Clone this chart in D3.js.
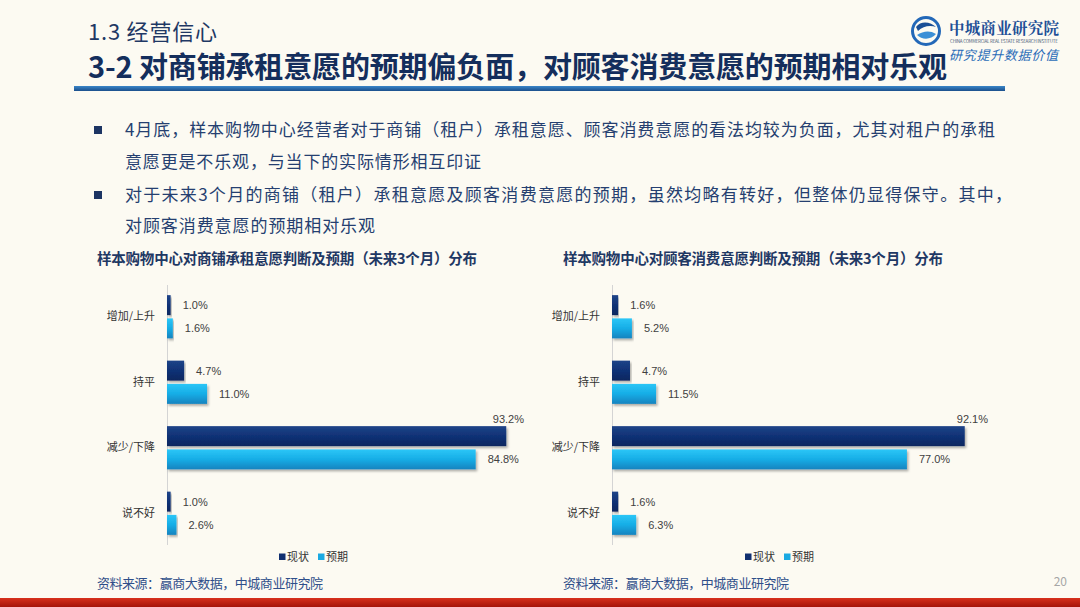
<!DOCTYPE html>
<html>
<head>
    <meta charset="utf-8">
    <title>3-2 经营信心</title>
    <style>
        * {
            margin: 0;
            padding: 0;
        }

        body {
            background-color: #fcfaf2;
            font-family: "Noto Sans CJK SC", "Microsoft YaHei", sans-serif;
        }
    </style>
    <script src="https://cdn.jsdelivr.net/npm/d3@7/dist/d3.min.js"></script>
</head>
<body>
    <div id="root"></div>

    <script>
        // 数据
        var categories = ["增加/上升", "持平", "减少/下降", "说不好"];
        var seriesNames = ["现状", "预期"];
        var shopNow = [1.0, 4.7, 93.2, 1.0];
        var shopExpect = [1.6, 11.0, 84.8, 2.6];
        var customerNow = [1.6, 4.7, 92.1, 1.6];
        var customerExpect = [5.2, 11.5, 77.0, 6.3];

        var bullets = [
            ["4月底，样本购物中心经营者对于商铺（租户）承租意愿、顾客消费意愿的看法均较为负面，尤其对租户的承租", "意愿更是不乐观，与当下的实际情形相互印证"],
            ["对于未来3个月的商铺（租户）承租意愿及顾客消费意愿的预期，虽然均略有转好，但整体仍显得保守。其中，", "对顾客消费意愿的预期相对乐观"]
        ];

        var width = 1080;
        var height = 607;
        var navy = "#1f3864";

        var svg = d3.select("#root").append("svg")
            .attr("width", width).attr("height", height)
            .style("display", "block");

        var defs = svg.append("defs");

        function addGradient(id, stops, x2, y2) {
            var g = defs.append("linearGradient").attr("id", id)
                .attr("x1", 0).attr("y1", 0).attr("x2", x2).attr("y2", y2);
            stops.forEach(function (s) {
                g.append("stop").attr("offset", s[0]).attr("stop-color", s[1]);
            });
        }
        addGradient("gNow", [["0%", "#1d4488"], ["55%", "#0f3074"], ["100%", "#0b275f"]], 0, 1);
        addGradient("gExp", [["0%", "#2cc6f7"], ["50%", "#16ade6"], ["100%", "#1383bf"]], 0, 1);
        addGradient("gLine", [["0%", "#3a86c8"], ["100%", "#1b4f8c"]], 0, 1);
        addGradient("gRed", [["0%", "#d7301c"], ["100%", "#a5140a"]], 0, 1);

        var shadow = defs.append("filter").attr("id", "shadow")
            .attr("x", "-5%").attr("y", "-30%").attr("width", "115%").attr("height", "170%");
        shadow.append("feDropShadow").attr("dx", 1.5).attr("dy", 2).attr("stdDeviation", 1.2)
            .attr("flood-color", "#000").attr("flood-opacity", 0.3);

        svg.append("rect").attr("width", width).attr("height", height).attr("fill", "#fcfaf2");

        function renderHeader() {
            svg.append("text").attr("x", 88).attr("y", 40)
                .attr("font-size", 22).attr("fill", navy)
                .attr("textLength", 129)
                .text("1.3  经营信心");

            svg.append("text").attr("x", 88).attr("y", 78)
                .attr("font-size", 29).attr("font-weight", "bold").attr("fill", "#142e5c")
                .attr("textLength", 859)
                .text("3-2  对商铺承租意愿的预期偏负面，对顾客消费意愿的预期相对乐观");

            svg.append("rect").attr("x", 74).attr("y", 86).attr("width", 931).attr("height", 5)
                .attr("fill", "url(#gLine)");

            // logo
            var logo = svg.append("g");
            logo.append("circle").attr("cx", 926).attr("cy", 31).attr("r", 13.5)
                .attr("fill", "none").attr("stroke", "#2368b8").attr("stroke-width", 3);
            logo.append("path").attr("d", "M916,27 C921,20 931,22 936,27 C930,25 923,26 918,31 Z").attr("fill", "#1a4f96");
            logo.append("path").attr("d", "M917,35 C923,31 930,30 936,34 C931,40 922,40 917,35 Z").attr("fill", "#3b8fd6");
            logo.append("text").attr("x", 949).attr("y", 34)
                .attr("font-size", 15.5).attr("font-weight", "bold").attr("fill", "#1d4f96")
                .attr("font-family", "'Noto Serif CJK SC', 'Noto Sans CJK SC', serif")
                .attr("textLength", 110)
                .text("中城商业研究院");
            logo.append("text").attr("x", 950).attr("y", 43)
                .attr("font-size", 4.5).attr("fill", "#4a5a78")
                .attr("textLength", 108)
                .text("CHINA COMMERCIAL REAL ESTATE RESEARCH INSTITUTE");
            logo.append("text").attr("x", 949).attr("y", 60)
                .attr("font-size", 13).attr("font-style", "italic").attr("fill", "#2b6db8")
                .attr("textLength", 109)
                .text("研究提升数据价值");
        }

        function renderBullets() {
            var lineY = [136, 168, 201, 232];
            var lengths = [870, 356, 887, 250];
            var k = 0;
            bullets.forEach(function (lines, i) {
                svg.append("rect").attr("x", 94).attr("y", lineY[k] - 10).attr("width", 8).attr("height", 8)
                    .attr("fill", "#1c3463");
                lines.forEach(function (t) {
                    svg.append("text").attr("x", 125).attr("y", lineY[k])
                        .attr("font-size", 17).attr("fill", "#253f70")
                        .attr("textLength", lengths[k])
                        .text(t);
                    k++;
                });
            });
        }

        function renderChart(opts) {
            var g = svg.append("g");

            g.append("text").attr("x", opts.titleX).attr("y", 264)
                .attr("font-size", 14.5).attr("font-weight", "bold").attr("fill", navy)
                .attr("textLength", 380)
                .text(opts.title);

            var x = d3.scaleLinear().domain([0, 100]).range([opts.x0, opts.x1]);
            var y = d3.scaleBand().domain(categories).range([284, 546]).paddingInner(0.34).paddingOuter(0.17);
            var y1 = d3.scaleBand().domain(seriesNames).range([0, y.bandwidth()]).paddingInner(0.14);

            var axis = d3.axisLeft(y).tickSize(0).tickPadding(12).tickSizeOuter(0);
            var ax = g.append("g").attr("transform", "translate(" + opts.x0 + ",0)").call(axis);
            ax.select(".domain").attr("stroke", "#d4d4d4").attr("d", "M0.5,285V545");
            ax.selectAll(".tick text")
                .attr("font-size", 11).attr("fill", "#333")
                .attr("font-family", "'Noto Sans CJK SC', sans-serif");

            var series = [opts.now, opts.expect];
            var fills = ["url(#gNow)", "url(#gExp)"];

            series.forEach(function (vals, s) {
                var bars = g.append("g").selectAll("g").data(vals).enter().append("g");

                bars.append("rect")
                    .attr("x", x(0))
                    .attr("y", function (d, i) { return y(categories[i]) + y1(seriesNames[s]); })
                    .attr("width", function (d) { return x(d) - x(0); })
                    .attr("height", y1.bandwidth())
                    .attr("fill", fills[s])
                    .attr("filter", "url(#shadow)");

                bars.append("text")
                    .attr("font-size", 11).attr("fill", "#404040")
                    .attr("font-family", "'Liberation Sans', Arial, sans-serif")
                    .text(function (d) { return d.toFixed(1) + "%"; })
                    .each(function (d, i) {
                        var t = d3.select(this);
                        var top = y(categories[i]) + y1(seriesNames[s]);
                        var w = this.getComputedTextLength();
                        if (x(d) + 12 + w > x(100) - 6) {
                            if (s === 0) {
                                t.attr("x", x(100) - 7).attr("y", top - 3).attr("text-anchor", "end");
                            } else {
                                t.attr("x", x(d) + 12).attr("y", top + y1.bandwidth() / 2 + 4);
                            }
                        } else {
                            t.attr("x", x(d) + 12).attr("y", top + y1.bandwidth() / 2 + 4);
                        }
                    });
            });

            // 图例
            var leg = g.append("g").attr("transform", "translate(" + opts.legendX + ",557)");
            seriesNames.forEach(function (name, i) {
                var item = leg.append("g").attr("transform", "translate(" + (i * 39) + ",0)");
                item.append("rect").attr("x", 0).attr("y", -3.5).attr("width", 6.5).attr("height", 6.5)
                    .attr("fill", i === 0 ? "#102f70" : "#1aa9e2");
                item.append("text").attr("x", 8).attr("y", 4)
                    .attr("font-size", 11).attr("fill", "#333").text(name);
            });

            g.append("text").attr("x", opts.titleX).attr("y", 588)
                .attr("font-size", 13).attr("fill", "#2f4f8a")
                .attr("textLength", 226)
                .text("资料来源：赢商大数据，中城商业研究院");
        }

        renderHeader();
        renderBullets();

        renderChart({
            title: "样本购物中心对商铺承租意愿判断及预期（未来3个月）分布",
            titleX: 97, x0: 167, x1: 531, legendX: 279,
            now: shopNow, expect: shopExpect
        });
        renderChart({
            title: "样本购物中心对顾客消费意愿判断及预期（未来3个月）分布",
            titleX: 563, x0: 612, x1: 995, legendX: 745,
            now: customerNow, expect: customerExpect
        });

        svg.append("text").attr("x", 1067).attr("y", 586).attr("text-anchor", "end")
            .attr("font-size", 12).attr("fill", "#a6a6a6").text("20");

        svg.append("rect").attr("x", 0).attr("y", 598).attr("width", width).attr("height", 9)
            .attr("fill", "url(#gRed)");
    </script>
</body>
</html>
